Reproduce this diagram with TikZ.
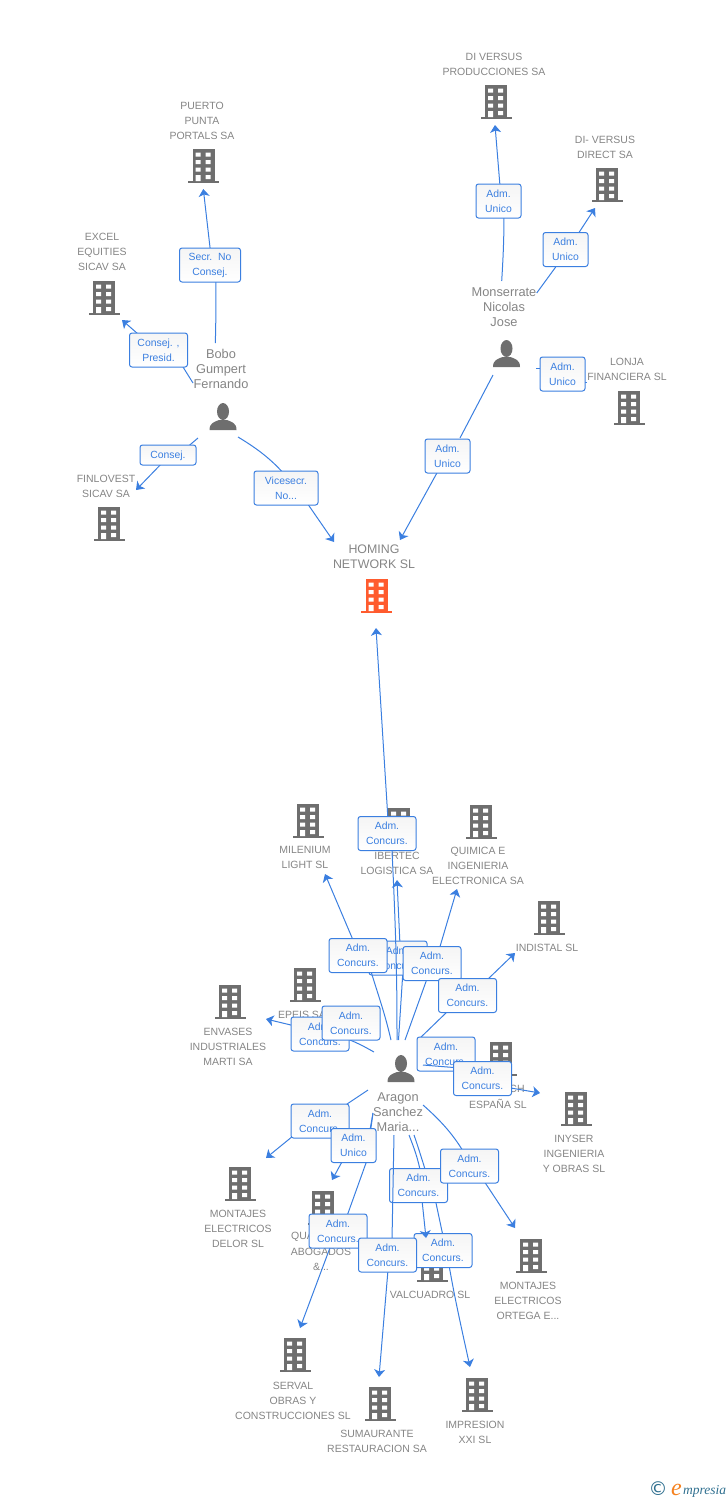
\documentclass[tikz,border=0pt]{standalone}
\usepackage{fontspec}
\setmainfont{Liberation Sans}
\newfontfamily\logofont{Liberation Serif}
\newfontfamily\symfont{DejaVu Sans}
\usetikzlibrary{arrows.meta}
\definecolor{linkblue}{HTML}{3B7FE0}
\definecolor{txtgray}{HTML}{858585}
\definecolor{icongray}{HTML}{6E6E6E}
\definecolor{hot}{HTML}{FF5B2E}
\definecolor{teal}{HTML}{2F6F8F}
\definecolor{logoorange}{HTML}{F58220}
\tikzset{
  lab/.style={align=center,text=txtgray,inner sep=0pt,yshift=-0.7pt,font=\fontsize{10.5}{15}\selectfont},
  who/.style={align=center,text=txtgray,inner sep=0pt,yshift=-0.7pt,font=\fontsize{12.8}{15}\selectfont},
  linkbox/.style={draw=linkblue,line width=1pt,rounded corners=2.5pt,top color=black!4,bottom color=white,
    text=linkblue,align=center,inner sep=0pt,minimum height=34pt,font=\fontsize{10.4}{15}\selectfont,
    execute at begin node={\rule{0pt}{10pt}}},
  lblC/.style={linkbox,minimum width=58pt},
  lblU/.style={linkbox,minimum width=45pt},
  conn/.style={draw=linkblue,line width=1pt},
  arr/.style={conn,-{Stealth[length=7.5pt,width=11pt,inset=2pt]}},
  pics/bldg/.style={code={
    \fill[#1] (-11,0) rectangle (11,32);
    \fill[#1] (-15.5,32) rectangle (15.5,34);
    \fill[white] (-8,3.5) rectangle (-3,7.5) (2,3.5) rectangle (7,7.5)
                 (-8,11) rectangle (-3,15) (2,11) rectangle (7,15)
                 (-8,18.5) rectangle (-3,22.5) (2,18.5) rectangle (7,22.5)
                 (-8,26) rectangle (-3,32) (2,26) rectangle (7,30);
  }},
  pics/person/.style={code={
    \fill[icongray] (0,8.5) ellipse (6 and 8.5);
    \fill[icongray] (-13.5,27) .. controls (-13.5,20) and (-9,19) .. (-4,17) -- (4,17)
       .. controls (9,19) and (13.5,20) .. (13.5,27) -- cycle;
  }}
}
\begin{document}
\begin{tikzpicture}[x=1pt,y=-1pt]
\useasboundingbox (0,0) rectangle (728,1500);
% buildings
\pic at (203.5,149) {bldg=icongray};
\pic at (104,281) {bldg=icongray};
\pic at (109,507) {bldg=icongray};
\pic at (496,85) {bldg=icongray};
\pic at (607,168) {bldg=icongray};
\pic at (629,391) {bldg=icongray};
\pic at (376.5,579) {bldg=hot};
\pic at (308,804) {bldg=icongray};
\pic at (399,808) {bldg=icongray};
\pic at (481,805) {bldg=icongray};
\pic at (549,901) {bldg=icongray};
\pic at (305,968) {bldg=icongray};
\pic at (230,985) {bldg=icongray};
\pic at (501,1042) {bldg=icongray};
\pic at (576,1092) {bldg=icongray};
\pic at (240,1167) {bldg=icongray};
\pic at (323,1191) {bldg=icongray};
\pic at (432,1248) {bldg=icongray};
\pic at (531,1239) {bldg=icongray};
\pic at (295,1338) {bldg=icongray};
\pic at (380,1387) {bldg=icongray};
\pic at (477,1378) {bldg=icongray};
% persons
\pic at (223,403) {person};
\pic at (506.5,340) {person};
\pic at (401,1055) {person};
% names
\node[lab] (nPuerto) at (202,120) {PUERTO\\PUNTA\\PORTALS SA};
\node[lab] (nExcel) at (102,251) {EXCEL\\EQUITIES\\SICAV SA};
\node[lab] (nFinlo) at (106,485.5) {FINLOVEST\\SICAV SA};
\node[lab] (nDiv) at (494,63.5) {DI VERSUS\\PRODUCCIONES SA};
\node[lab] (nDirect) at (605,146.5) {DI- VERSUS\\DIRECT SA};
\node[lab] (nLonja) at (627,368.5) {LONJA\\FINANCIERA SL};
\node[who,font=\fontsize{12.4}{15}\selectfont] (nHoming) at (374,556.5) {HOMING\\NETWORK SL};
\node[who] (nBobo) at (221,368) {Bobo\\Gumpert\\Fernando};
\node[who] (nMons) at (504,306) {Monserrate\\Nicolas\\Jose};
\node[who] (nAragon) at (398,1111) {Aragon\\Sanchez\\Maria...};
\node[lab] (nMilen) at (305,856.5) {MILENIUM\\LIGHT SL};
\node[lab] (nIber) at (397,862.5) {IBERTEC\\LOGISTICA SA};
\node[lab] (nQuim) at (478,865) {QUIMICA E\\INGENIERIA\\ELECTRONICA SA};
\node[lab] (nIndi) at (547,947) {INDISTAL SL};
\node[lab] (nEpeis) at (302,1014) {EPEIS SA};
\node[lab] (nEnv) at (228,1046) {ENVASES\\INDUSTRIALES\\MARTI SA};
\node[lab] (nCh) at (517,1088) {CH};
\node[lab] (nEsp) at (498,1103) {ESPAÑA SL};
\node[lab] (nIny) at (574,1153) {INYSER\\INGENIERIA\\Y OBRAS SL};
\node[lab] (nDelor) at (238,1228) {MONTAJES\\ELECTRICOS\\DELOR SL};
\node[lab,anchor=west] (nQua) at (291,1236) {QUA};
\node[lab] (nAbo) at (321,1258.5) {ABOGADOS\\\&...};
\node[lab] (nValc) at (430,1294) {VALCUADRO SL};
\node[lab] (nOrt) at (528,1300) {MONTAJES\\ELECTRICOS\\ORTEGA E...};
\node[lab] (nServ) at (293,1400) {SERVAL\\OBRAS Y\\CONSTRUCCIONES SL};
\node[lab] (nSum) at (377,1440.5) {SUMAURANTE\\RESTAURACION SA};
\node[lab] (nImp) at (475,1431.5) {IMPRESION\\XXI SL};
% Bobo
\coordinate (bN) at (215.3,343);
\coordinate (bW) at (193,383);
\coordinate (bSW) at (198,438);
\coordinate (bSE) at (238,437);
\coordinate (tPuerto) at (203.3,189);
\coordinate (tExcel) at (122,320);
\coordinate (tFinlo) at (136,490);
\coordinate (tHomA) at (334,542);
\coordinate (tHomB) at (400,540);
\coordinate (tHomC) at (376,628);
\draw[conn] (bN) .. controls (216,320) and (216,300) .. (215.7,275);
\draw[arr] (210.3,250) -- (tPuerto);
\node[linkbox,minimum width=61pt] (lSecr) at (210,265) {Secr.\ \ No\\Consej.};
\draw[conn] (bW) -- (183,367);
\draw[arr] (138,334) -- (tExcel);
\node[lblC] (lPres) at (158.5,350) {Consej. ,\\Presid.};
\draw[conn] (bSW) -- (178,455);
\draw[arr] (165,460) -- (tFinlo);
\node[linkbox,minimum width=56pt,minimum height=20pt] (lCons) at (168,455) {Consej.};
\draw[conn] (bSE) .. controls (258,449) and (272,460) .. (285,475);
\draw[arr] (305,500) -- (tHomA);
\node[linkbox,minimum width=64pt] (lVice) at (286,488) {Vicesecr.\\No...};
% Monserrate
\coordinate (mN) at (501.7,281);
\coordinate (mE) at (536.7,293);
\coordinate (mR) at (536,368);
\coordinate (mS) at (493,375);
\coordinate (tDiv) at (495,125);
\coordinate (tDirect) at (595,208);
\coordinate (tLonja) at (587,382);
\draw[conn] (mN) .. controls (503,260) and (504,240) .. (504,215);
\draw[arr] (500,186) -- (tDiv);
\node[lblU] (lDiv) at (498.5,201) {Adm.\\Unico};
\draw[conn] (mE) -- (555.7,267);
\draw[arr] (578,234) -- (tDirect);
\node[lblU] (lDirect) at (565.5,249.5) {Adm.\\Unico};
\draw[conn] (mR) -- (545,368);
\draw[conn] (580,382) -- (tLonja);
\node[lblU] (lLonja) at (562.5,374) {Adm.\\Unico};
\draw[conn] (mS) -- (460,438);
\draw[arr] (438,471) -- (tHomB);
\node[lblU] (lHomU) at (447.5,456) {Adm.\\Unico};
% Aragon, upper
\coordinate (aHom) at (397,1040);
\coordinate (aIbe) at (398.5,1040);
\coordinate (aMil) at (391,1040);
\coordinate (aQui) at (405,1040);
\coordinate (aInd) at (418,1040);
\coordinate (aEnv) at (374,1052);
\coordinate (aIny) at (423,1065);
\coordinate (aDel) at (368,1090);
\coordinate (aQua) at (373,1113);
\coordinate (aSum) at (394,1135);
\coordinate (aVal) at (409,1135);
\coordinate (aImp) at (414,1135);
\coordinate (aOrt) at (423,1105);
\coordinate (tIbe) at (397,880);
\coordinate (tMil) at (325,874);
\coordinate (tQui) at (457,889);
\coordinate (tInd) at (515,953);
\coordinate (tEnv) at (266,1019);
\coordinate (tIny) at (540,1093);
\coordinate (tDel) at (266,1158);
\coordinate (tQua) at (332,1180);
\coordinate (tSer) at (300,1328);
\coordinate (tSum) at (379,1377);
\coordinate (tVal) at (426,1238);
\coordinate (tImp) at (470,1367);
\coordinate (tOrt) at (515,1228);
\draw[conn] (aIbe) -- (403,970);
\draw[arr] (400,945) -- (tIbe);
\node[lblC] (lIbe) at (398,958) {Adm.\\Concurs.};
\draw[conn] (aHom) .. controls (397,1000) and (397,950) .. (391.7,845);
\draw[arr] (388,820) -- (tHomC);
\node[lblC] (lHom) at (387,833.5) {Adm.\\Concurs.};
\draw[conn] (aMil) .. controls (384,1010) and (378,995) .. (370,968);
\draw[arr] (353,940) -- (tMil);
\node[lblC] (lMil) at (358,955.5) {Adm.\\Concurs.};
\draw[conn] (aQui) -- (428,976);
\draw[arr] (439,950) -- (tQui);
\node[lblC] (lQui) at (432,963.5) {Adm.\\Concurs.};
\draw[conn] (aInd) -- (449,1010);
\draw[arr] (487,980) -- (tInd);
\node[lblC] (lInd) at (467.5,995.5) {Adm.\\Concurs.};
\draw[conn] (aEnv) .. controls (365,1047) and (358,1043) .. (345,1038);
\draw[arr] (295,1026) -- (tEnv);
\node[lblC] (lEnv) at (320,1034) {Adm.\\Concurs.};
\node[lblC] (lEpe) at (351,1023) {Adm.\\Concurs.};
\node[lblC] (lEsp) at (446,1054) {Adm.\\Concurs.};
\draw[conn] (aIny) -- (460,1068);
\draw[arr] (505,1087) -- (tIny);
\node[lblC] (lIny) at (482.5,1078.5) {Adm.\\Concurs.};
% Aragon, lower
\draw[conn] (aDel) -- (347,1104);
\draw[arr] (293,1136) -- (tDel);
\node[lblC] (lDel) at (320,1121) {Adm.\\Concurs.};
\draw[conn] (aQua) -- (366,1163) -- (347,1216);
\draw[arr] (331,1245) -- (tSer);
\node[lblC] (lSer) at (338,1231) {Adm.\\Concurs.};
\draw[conn] (aQua) -- (370,1130);
\draw[arr] (343,1160) -- (tQua);
\node[lblU] (lQua) at (353.5,1145.5) {Adm.\\Unico};
\draw[conn] (aImp) .. controls (421,1155) and (428,1180) .. (436,1203) -- (443,1236);
\draw[arr] (449,1265) .. controls (455,1300) and (463,1335) .. (tImp);
\node[lblC] (lImp) at (443,1250.5) {Adm.\\Concurs.};
\draw[conn] (aVal) .. controls (414,1148) and (418,1158) .. (421,1175);
\draw[arr] (422,1200) -- (tVal);
\node[lblC] (lVal) at (418.5,1185.5) {Adm.\\Concurs.};
\draw[conn] (aSum) -- (392,1240);
\draw[arr] (388,1270) -- (tSum);
\node[lblC] (lSum) at (387.5,1255) {Adm.\\Concurs.};
\draw[conn] (aOrt) .. controls (440,1120) and (452,1133) .. (463,1151);
\draw[arr] (484,1181) -- (tOrt);
\node[lblC] (lOrt) at (469.5,1166) {Adm.\\Concurs.};
% logo
\node[text=teal,inner sep=0pt,font=\symfont\fontsize{19}{19}\selectfont] (logoC) at (658,1489) {©};
\node[anchor=base west,text=logoorange,inner sep=0pt,font=\logofont\itshape\fontsize{24}{24}\selectfont] (logoE) at (671,1495) {e};
\node[anchor=base west,text=teal,inner sep=0pt,font=\logofont\itshape\fontsize{13.5}{14}\selectfont] (logoT) at (683,1494) {mpresia};
\end{tikzpicture}
\end{document}
